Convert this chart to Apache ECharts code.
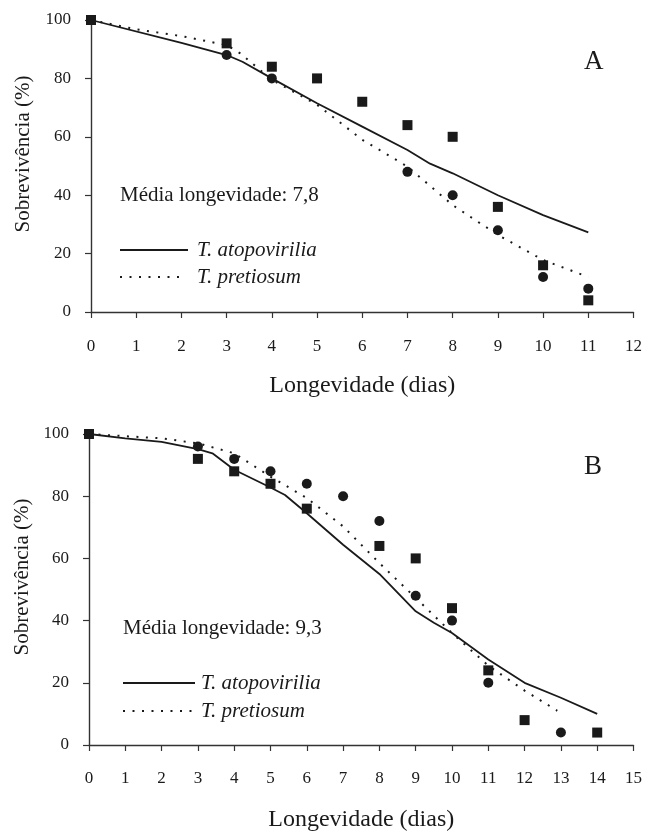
<!DOCTYPE html>
<html>
<head>
<meta charset="utf-8">
<script src="https://cdn.jsdelivr.net/npm/echarts@6/dist/echarts.min.js"></script>
<style>
  html, body { margin: 0; padding: 0; background: #fff; }
  #chart { width: 645px; height: 833px; }
</style>
</head>
<body>
<div id="chart"></div>
<script>
// painel A
const xTicksA = [0, 1, 2, 3, 4, 5, 6, 7, 8, 9, 10, 11, 12];
const squaresA = [[0, 100], [3, 92], [4, 84], [5, 80], [6, 72], [7, 64], [8, 60], [9, 36], [10, 16], [11, 4]];
const circlesA = [[0, 100], [3, 88], [4, 80], [7, 48], [8, 40], [9, 28], [10, 12], [11, 8]];
const solidA = [[0, 100], [2, 92.2], [3, 88], [3.35, 85.7], [4, 80], [5, 71.5], [6, 63.5], [7, 55.5], [7.5, 50.8], [8, 47.5], [9, 40], [10, 33.2], [11, 27.3]];
const dottedA = [[0, 100], [1, 96.8], [2, 94.5], [3, 91.4], [3.3, 88.6], [4, 79.5], [5, 71], [6, 59], [7, 49.8], [8, 36.6], [9, 26.4], [10, 17.8], [11, 12]];

// painel B
const xTicksB = [0, 1, 2, 3, 4, 5, 6, 7, 8, 9, 10, 11, 12, 13, 14, 15];
const squaresB = [[0, 100], [3, 92], [4, 88], [5, 84], [6, 76], [8, 64], [9, 60], [10, 44], [11, 24], [12, 8], [14, 4]];
const circlesB = [[0, 100], [3, 96], [4, 92], [5, 88], [6, 84], [7, 80], [8, 72], [9, 48], [10, 40], [11, 20], [13, 4]];
const solidB = [[0, 100], [1, 98.6], [2, 97.5], [3, 95.1], [3.4, 93.8], [4, 88.5], [5, 82.8], [5.4, 80.4], [6, 74.5], [7, 64.4], [8, 55], [8.6, 47.8], [9, 43], [9.5, 39.3], [10, 36], [11, 27.5], [12, 20], [13, 15.2], [14, 10]];
const dottedB = [[0, 100], [2, 98.6], [3, 97], [4, 93.8], [5, 86.3], [6, 79.4], [7, 70.3], [8, 58.5], [9, 47.3], [10, 36], [11, 25.5], [12, 17.5], [12.9, 11]];

const yTicks = [0, 20, 40, 60, 80, 100];
const notes = ['Média longevidade: 7,8', 'Média longevidade: 9,3'];
const species = ['T. atopovirilia', 'T. pretiosum'];
const panels = ['A', 'B'];

const font = '"Liberation Serif", "DejaVu Serif", serif';
const ink = '#1a1a1a';
const dots = [2, 7.5];

function xAxis(idx, ticks, margin, gap) {
  return {
    gridIndex: idx, type: 'value',
    min: ticks[0], max: ticks[ticks.length - 1], interval: 1,
    name: 'Longevidade (dias)', nameLocation: 'middle', nameGap: gap,
    nameTextStyle: { fontFamily: font, fontSize: 24, color: ink },
    axisLine: { show: true, lineStyle: { color: '#333', width: 1.4 } },
    axisTick: { show: true, length: 6, lineStyle: { color: '#333', width: 1.2 } },
    axisLabel: { fontFamily: font, fontSize: 17, color: ink, margin: margin },
    splitLine: { show: false }
  };
}
function yAxis(idx) {
  return {
    gridIndex: idx, type: 'value', min: yTicks[0], max: yTicks[yTicks.length - 1], interval: 20,
    axisLine: { show: true, lineStyle: { color: '#333', width: 1.4 } },
    axisTick: { show: true, length: 6, lineStyle: { color: '#333', width: 1.2 } },
    axisLabel: { fontFamily: font, fontSize: 17, color: ink, margin: 20 },
    splitLine: { show: false }
  };
}
function marks(idx, sq, ci, solid, dotted) {
  return [
    { type: 'line', xAxisIndex: idx, yAxisIndex: idx, data: solid, showSymbol: false, silent: true,
      lineStyle: { color: ink, width: 1.8 } },
    { type: 'line', xAxisIndex: idx, yAxisIndex: idx, data: dotted, showSymbol: false, silent: true,
      lineStyle: { color: ink, width: 2, type: dots, cap: 'butt' } },
    { type: 'scatter', xAxisIndex: idx, yAxisIndex: idx, data: sq, symbol: 'rect', symbolSize: 10,
      itemStyle: { color: ink, opacity: 1 } },
    { type: 'scatter', xAxisIndex: idx, yAxisIndex: idx, data: ci, symbol: 'circle', symbolSize: 10,
      itemStyle: { color: ink, opacity: 1 } }
  ];
}
function txt(x, y, text, font0, rot) {
  return { type: 'text', x: x, y: y, rotation: rot || 0,
    style: { text: text, font: font0, fill: ink, align: rot ? 'center' : 'left', verticalAlign: 'middle' } };
}
function legendBlock(x, y, tx, lineEnd, dotEnd, gap, note) {
  return [
    txt(x, y, note, '21px ' + font),
    { type: 'line', shape: { x1: x, y1: y + 55, x2: lineEnd, y2: y + 55 }, style: { stroke: ink, lineWidth: 1.8 } },
    { type: 'line', shape: { x1: x, y1: y + 55 + gap, x2: dotEnd, y2: y + 55 + gap },
      style: { stroke: ink, lineWidth: 2, lineDash: dots } },
    txt(tx, y + 55, species[0], 'italic 21px ' + font),
    txt(tx, y + 55 + gap, species[1], 'italic 21px ' + font)
  ];
}

const chart = echarts.init(document.getElementById('chart'), null, { renderer: 'canvas' });
chart.setOption({
  animation: false,
  grid: [
    { left: 91, top: 20, width: 543, height: 292 },
    { left: 89, top: 434, width: 546, height: 312 }
  ],
  xAxis: [xAxis(0, xTicksA, 26, 62), xAxis(1, xTicksB, 25, 63)],
  yAxis: [yAxis(0), yAxis(1)],
  series: [].concat(
    marks(0, squaresA, circlesA, solidA, dottedA),
    marks(1, squaresB, circlesB, solidB, dottedB)
  ),
  graphic: [].concat(
    legendBlock(120, 195, 197, 188, 182, 27, notes[0]),
    legendBlock(123, 628, 201, 195, 192, 28, notes[1]),
    [
      txt(584, 62, panels[0], '27px ' + font),
      txt(584, 467, panels[1], '27px ' + font),
      txt(23, 154, 'Sobrevivência (%)', '21px ' + font, Math.PI / 2),
      txt(22, 577, 'Sobrevivência (%)', '21px ' + font, Math.PI / 2)
    ]
  )
});
</script>
</body>
</html>
